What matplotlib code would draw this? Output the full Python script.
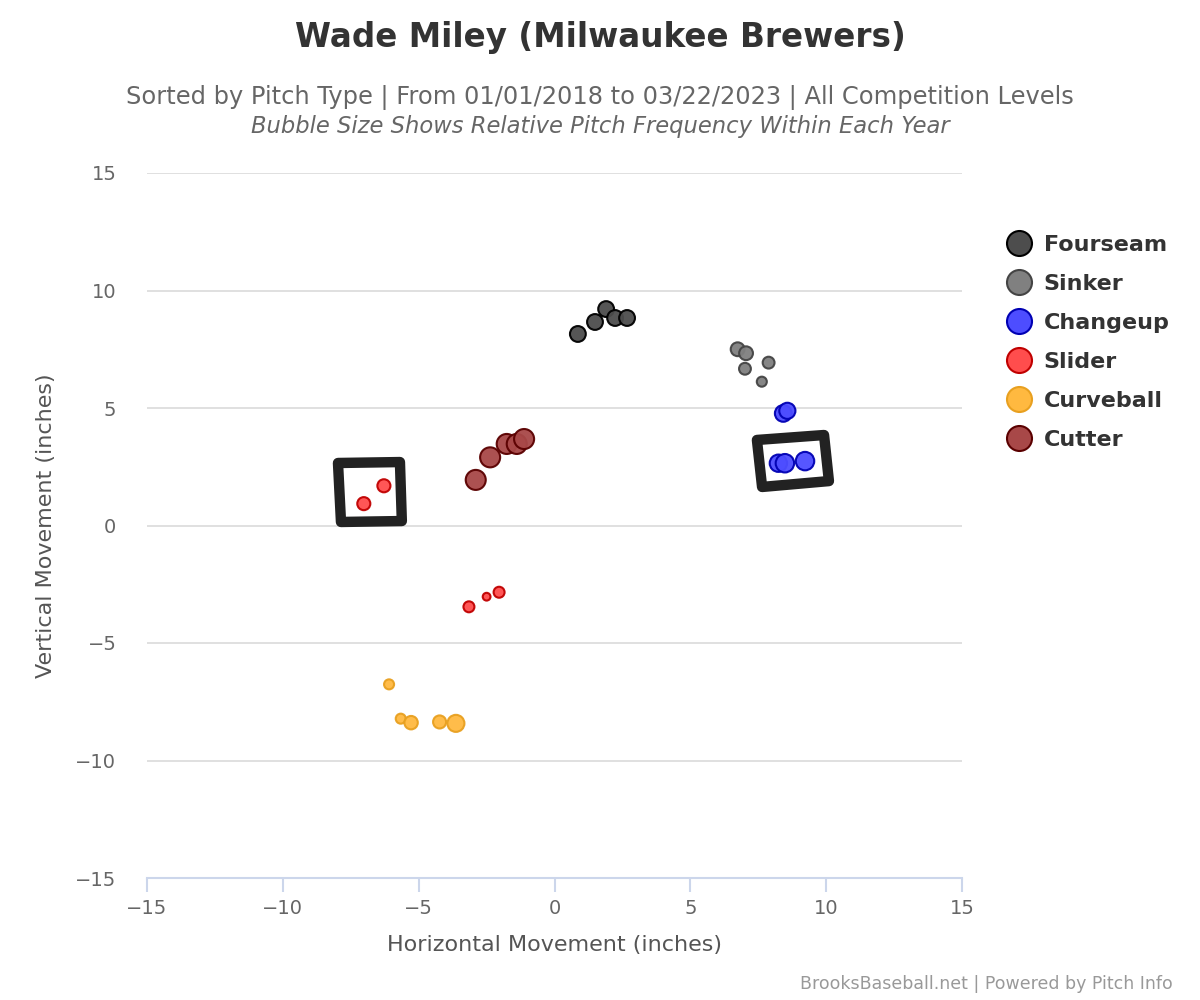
import matplotlib
matplotlib.use("Agg")
import matplotlib.pyplot as plt
from matplotlib.lines import Line2D
from matplotlib.patches import Polygon

# pitch movement (inches) and relative frequency within each year
pitch_types = ["Fourseam", "Sinker", "Changeup", "Slider", "Curveball", "Cutter"]

fourseam_x = [0.86, 1.49, 1.90, 2.23, 2.67]
fourseam_y = [8.15, 8.66, 9.21, 8.83, 8.83]
fourseam_f = [25, 25, 25, 25, 25]

sinker_x = [6.74, 7.05, 7.88, 7.01, 7.63]
sinker_y = [7.50, 7.33, 6.93, 6.67, 6.12]
sinker_f = [19, 19, 14, 14, 10]

changeup_x = [8.42, 8.57, 8.24, 8.48, 9.22]
changeup_y = [4.77, 4.88, 2.65, 2.65, 2.74]
changeup_f = [28, 26, 30, 34, 34]

slider_x = [-6.28, -7.02, -3.15, -2.50, -2.04]
slider_y = [1.69, 0.93, -3.46, -3.03, -2.84]
slider_f = [17, 17, 12, 6, 12]

curveball_x = [-6.09, -5.66, -5.28, -4.23, -3.63]
curveball_y = [-6.76, -8.22, -8.39, -8.36, -8.42]
curveball_f = [10, 10, 18, 17, 29]

cutter_x = [-2.90, -2.37, -1.76, -1.39, -1.12]
cutter_y = [1.94, 2.90, 3.47, 3.47, 3.68]
cutter_f = [40, 40, 40, 40, 40]

# hand drawn boxes on the chart (data coordinates)
box_left = [(-7.97, 2.66), (-5.69, 2.70), (-5.62, 0.19), (-7.86, 0.15)]
box_right = [(7.45, 3.64), (9.92, 3.85), (10.10, 1.89), (7.64, 1.64)]

series = [
    (fourseam_x, fourseam_y, fourseam_f, "#4d4d4d", "#000000"),
    (sinker_x, sinker_y, sinker_f, "#808080", "#444444"),
    (changeup_x, changeup_y, changeup_f, "#4d4dff", "#0000b3"),
    (slider_x, slider_y, slider_f, "#ff4d4d", "#c00000"),
    (curveball_x, curveball_y, curveball_f, "#ffb940", "#e8a020"),
    (cutter_x, cutter_y, cutter_f, "#a84848", "#5a0000"),
]

fig = plt.figure(figsize=(12, 10), dpi=100)
ax = fig.add_axes([0.1225, 0.122, 0.6792, 0.705])

for xs, ys, fs, fc, ec in series:
    ax.scatter(xs, ys, s=[f * 5.2 for f in fs], c=fc, edgecolors=ec,
               linewidths=1.5, alpha=0.95, zorder=3)

for box in (box_left, box_right):
    ax.add_patch(Polygon(box, closed=True, fill=False, edgecolor="#222222",
                         linewidth=7.5, joinstyle="round", zorder=4))

ax.set_xlim(-15, 15)
ax.set_ylim(-15, 15)
ax.set_xticks(range(-15, 16, 5))
ax.set_yticks(range(-15, 16, 5))
ax.grid(axis="y", color="#e0e0e0", linewidth=1.4, zorder=0)
ax.set_axisbelow(True)
for s in ["top", "right", "left"]:
    ax.spines[s].set_visible(False)
ax.spines["bottom"].set_color("#ccd6eb")
ax.spines["bottom"].set_linewidth(1.5)
ax.tick_params(axis="x", colors="#ccd6eb", length=10, width=1.5, labelcolor="#666666",
               labelsize=14, pad=5)
ax.tick_params(axis="y", length=0, labelcolor="#666666", labelsize=14, pad=22)

ax.set_xlabel("Horizontal Movement (inches)", fontsize=16, color="#555555", labelpad=12)
ax.set_ylabel("Vertical Movement (inches)", fontsize=16, color="#555555", labelpad=14)

fig.text(0.5, 0.962, "Wade Miley (Milwaukee Brewers)", ha="center", va="center",
         fontsize=23.5, fontweight="bold", color="#333333")
fig.text(0.5, 0.903, "Sorted by Pitch Type | From 01/01/2018 to 03/22/2023 | All Competition Levels",
         ha="center", va="center", fontsize=17.4, color="#666666")
fig.text(0.5, 0.873, "Bubble Size Shows Relative Pitch Frequency Within Each Year",
         ha="center", va="center", fontsize=16.3, style="italic", color="#666666")
fig.text(0.977, 0.016, "BrooksBaseball.net | Powered by Pitch Info", ha="right", va="center",
         fontsize=12.5, color="#999999")

handles = [Line2D([], [], marker="o", linestyle="none", markersize=18,
                  markerfacecolor=fc, markeredgecolor=ec, markeredgewidth=1.5)
           for _, _, _, fc, ec in series]
leg = fig.legend(handles, pitch_types, loc="upper left", bbox_to_anchor=(0.829, 0.776),
                 frameon=False, handletextpad=0.5, labelspacing=0.85, borderpad=0,
                 handlelength=1.2, prop={"size": 16, "weight": "bold"})
for t in leg.get_texts():
    t.set_color("#333333")

fig.savefig("out.png", dpi=100)
